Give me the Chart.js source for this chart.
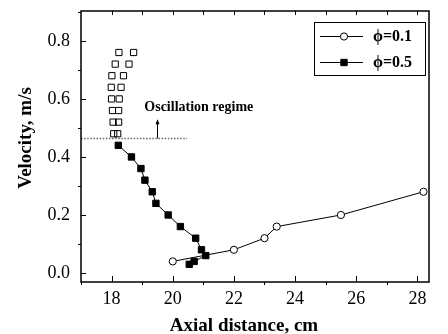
<!DOCTYPE html>
<html>
<head>
<meta charset="utf-8">
<script src="https://cdn.jsdelivr.net/npm/chart.js@4/dist/chart.umd.min.js"></script>
<style>
  html, body { margin: 0; padding: 0; background: #fff; }
  canvas { display: block; }
</style>
</head>
<body>
<canvas id="chart" width="448" height="334"></canvas>
<script>
// phi = 0.1 (open circles)
const phi01X = [20.0, 22.0, 23.0, 23.4, 25.5, 28.2];
const phi01Y = [0.04, 0.08, 0.12, 0.16, 0.20, 0.28];

// phi = 0.5 (filled squares)
const phi05X = [18.22, 18.65, 18.96, 19.09, 19.33, 19.45, 19.85, 20.25, 20.75, 20.94, 21.08, 20.7, 20.54];
const phi05Y = [0.44, 0.40, 0.36, 0.32, 0.28, 0.24, 0.20, 0.16, 0.12, 0.08, 0.06, 0.04, 0.03];

// oscillation regime (open squares, no line)
const oscX = [18.24, 18.72, 18.12, 18.57, 18.01, 18.39, 17.99, 18.31, 18.0, 18.25, 18.03, 18.23, 18.05, 18.23, 18.07, 18.2];
const oscY = [0.76, 0.76, 0.72, 0.72, 0.68, 0.68, 0.64, 0.64, 0.60, 0.60, 0.56, 0.56, 0.52, 0.52, 0.48, 0.48];

// threshold line + arrow + label
const thresholdX = [17, 20.47];
const thresholdY = 0.464;
const arrowX = 19.49;
const arrowTopY = 0.53;
const regimeLabel = 'Oscillation regime';
const regimeLabelPos = [19.07, 0.56];

// axes
const xTicks = [18, 20, 22, 24, 26, 28];
const xMinorTicks = [17, 19, 21, 23, 25, 27];
const xTopTicks = [18, 19, 20, 21, 22, 23, 24, 25, 26, 27, 28];
const yTicks = [0.0, 0.2, 0.4, 0.6, 0.8];
const yMinorTicks = [0.1, 0.3, 0.5, 0.7, 0.9];
const xTitle = 'Axial distance, cm';
const yTitle = 'Velocity, m/s';
const legendLabels = ['\u03D5=0.1', '\u03D5=0.5'];

const toPoints = (xs, ys) => xs.map((x, i) => ({ x: x, y: ys[i] }));

const SERIF = '"Liberation Serif", "DejaVu Serif", serif';

// frame, tick marks, titles, arrow, label and legend
const decorations = {
  id: 'decorations',
  afterDraw(chart) {
    const ctx = chart.ctx;
    const { left, right, top, bottom } = chart.chartArea;
    const xs = chart.scales.x;
    const ys = chart.scales.y;
    ctx.save();
    ctx.strokeStyle = '#000';
    ctx.fillStyle = '#000';

    // frame
    ctx.lineWidth = 1.5;
    ctx.strokeRect(left, top, right - left, bottom - top);

    ctx.lineWidth = 1;
    ctx.beginPath();
    xTicks.forEach(v => {
      const px = Math.round(xs.getPixelForValue(v)) + 0.5;
      ctx.moveTo(px, bottom); ctx.lineTo(px, bottom - 6);
    });
    xMinorTicks.forEach(v => {
      const px = Math.round(xs.getPixelForValue(v)) + 0.5;
      ctx.moveTo(px, bottom); ctx.lineTo(px, bottom + 3);
    });
    xTopTicks.forEach(v => {
      const px = Math.round(xs.getPixelForValue(v)) + 0.5;
      ctx.moveTo(px, top); ctx.lineTo(px, top + 4);
    });
    yTicks.forEach(v => {
      const py = Math.round(ys.getPixelForValue(v)) + 0.5;
      ctx.moveTo(left, py); ctx.lineTo(left + 5, py);
    });
    yMinorTicks.forEach(v => {
      const py = Math.round(ys.getPixelForValue(v)) + 0.5;
      ctx.moveTo(left, py); ctx.lineTo(left - 3, py);
    });
    ctx.stroke();

    // arrow
    const ax = Math.round(xs.getPixelForValue(arrowX)) + 0.5;
    const ay0 = ys.getPixelForValue(thresholdY);
    const ay1 = ys.getPixelForValue(arrowTopY);
    ctx.beginPath();
    ctx.moveTo(ax, ay0); ctx.lineTo(ax, ay1 + 4);
    ctx.stroke();
    ctx.beginPath();
    ctx.moveTo(ax, ay1);
    ctx.lineTo(ax - 2, ay1 + 5);
    ctx.lineTo(ax + 2, ay1 + 5);
    ctx.closePath();
    ctx.fill();

    // regime label
    ctx.font = 'bold 14px ' + SERIF;
    ctx.textAlign = 'left';
    ctx.textBaseline = 'alphabetic';
    ctx.fillText(regimeLabel, xs.getPixelForValue(regimeLabelPos[0]), ys.getPixelForValue(regimeLabelPos[1]));

    // axis titles
    ctx.font = 'bold 19px ' + SERIF;
    ctx.textAlign = 'center';
    ctx.fillText(xTitle, 244, 331);
    ctx.save();
    ctx.translate(31, 138);
    ctx.rotate(-Math.PI / 2);
    ctx.fillText(yTitle, 0, 0);
    ctx.restore();

    // legend
    const lx0 = 314, lx1 = 425, ly0 = 22, ly1 = 75;
    ctx.lineWidth = 1;
    ctx.strokeRect(lx0 + 0.5, ly0 + 0.5, lx1 - lx0, ly1 - ly0);
    const rows = [36, 62];
    const sets = [chart.data.datasets[0], chart.data.datasets[1]];
    rows.forEach((ry, i) => {
      ctx.beginPath();
      ctx.moveTo(320, ry + 0.5); ctx.lineTo(363, ry + 0.5);
      ctx.stroke();
      const ds = sets[i];
      ctx.fillStyle = ds.pointBackgroundColor;
      ctx.strokeStyle = '#000';
      ctx.beginPath();
      if (ds.pointStyle === 'circle') {
        ctx.arc(344, ry + 0.5, ds.pointRadius, 0, Math.PI * 2);
      } else {
        const s = Math.SQRT1_2 * ds.pointRadius;
        ctx.rect(344 - s, ry + 0.5 - s, 2 * s, 2 * s);
      }
      ctx.fill();
      ctx.stroke();
      ctx.fillStyle = '#000';
      ctx.font = 'bold 16px ' + SERIF;
      ctx.textAlign = 'left';
      ctx.textBaseline = 'middle';
      ctx.fillText(legendLabels[i], 373, ry + 1);
    });

    ctx.restore();
  }
};

new Chart(document.getElementById('chart'), {
  type: 'scatter',
  data: {
    datasets: [
      {
        label: legendLabels[0],
        data: toPoints(phi01X, phi01Y),
        showLine: true,
        borderColor: '#000',
        borderWidth: 1,
        pointStyle: 'circle',
        pointRadius: 3.6,
        pointBorderWidth: 1,
        pointBorderColor: '#000',
        pointBackgroundColor: '#fff',
        order: 1
      },
      {
        label: legendLabels[1],
        data: toPoints(phi05X, phi05Y),
        showLine: true,
        borderColor: '#000',
        borderWidth: 1,
        pointStyle: 'rect',
        pointRadius: 4.5,
        pointBorderWidth: 1,
        pointBorderColor: '#000',
        pointBackgroundColor: '#000',
        order: 2
      },
      {
        label: 'oscillation',
        data: toPoints(oscX, oscY),
        showLine: false,
        pointStyle: 'rect',
        pointRadius: 4.4,
        pointBorderWidth: 1,
        pointBorderColor: '#000',
        pointBackgroundColor: 'rgba(255,255,255,0)',
        order: 3
      },
      {
        label: 'threshold',
        data: thresholdX.map(x => ({ x: x, y: thresholdY })),
        showLine: true,
        borderColor: '#666',
        borderWidth: 1.5,
        borderDash: [1.5, 1.6],
        pointRadius: 0,
        order: 4
      }
    ]
  },
  options: {
    responsive: false,
    animation: false,
    devicePixelRatio: 1,
    layout: { padding: { top: 11, right: 19, left: 0, bottom: 0 } },
    plugins: {
      legend: { display: false },
      tooltip: { enabled: false }
    },
    scales: {
      x: {
        type: 'linear',
        min: 17,
        max: 28.38,
        afterBuildTicks: s => { s.ticks = xTicks.map(v => ({ value: v })); },
        afterFit: s => { s.height = 52; s.paddingLeft = 0; s.paddingRight = 0; },
        grid: { display: false, drawTicks: false },
        border: { display: false },
        ticks: {
          padding: 6,
          color: '#000',
          font: { family: SERIF, size: 18 },
          callback: v => String(v)
        }
      },
      y: {
        type: 'linear',
        min: -0.031,
        max: 0.903,
        afterBuildTicks: s => { s.ticks = yTicks.map(v => ({ value: v })); },
        afterFit: s => { s.width = 81; s.paddingTop = 0; s.paddingBottom = 0; },
        grid: { display: false, drawTicks: false },
        border: { display: false },
        ticks: {
          padding: 11,
          color: '#000',
          font: { family: SERIF, size: 18 },
          callback: v => Number(v).toFixed(1)
        }
      }
    }
  },
  plugins: [decorations]
});
</script>
</body>
</html>
